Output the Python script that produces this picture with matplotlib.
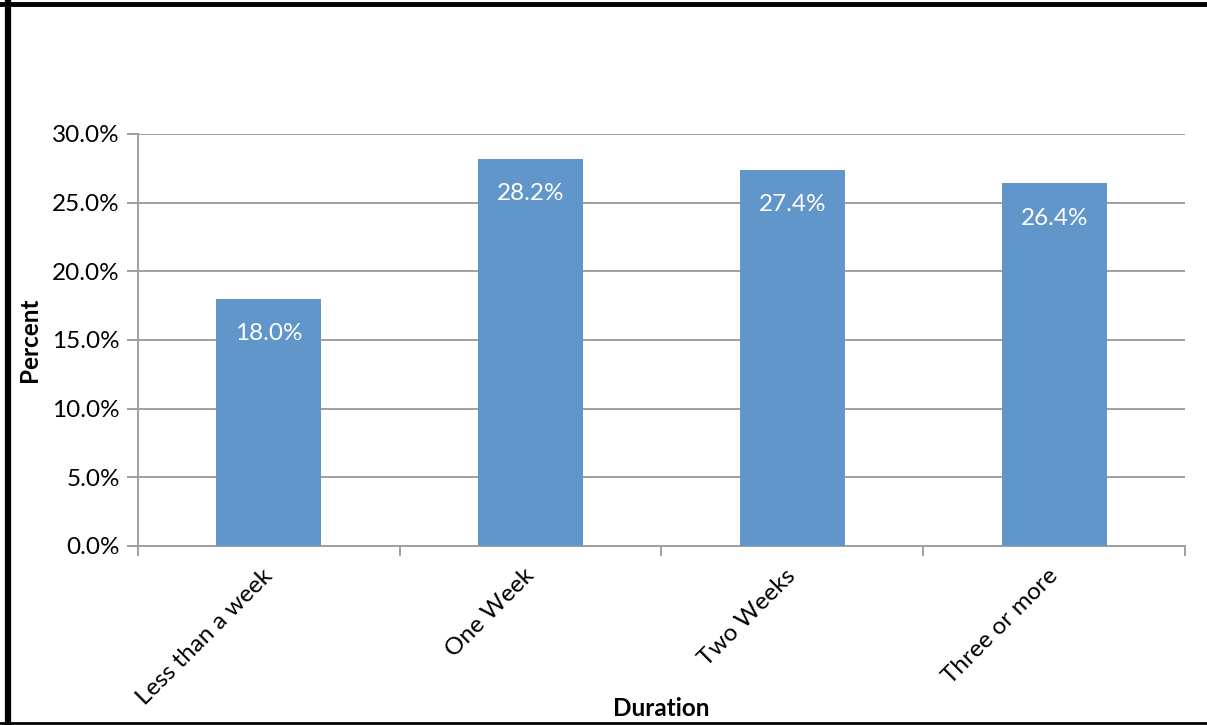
import matplotlib
matplotlib.use("Agg")
import matplotlib.pyplot as plt
from matplotlib.lines import Line2D
from matplotlib.ticker import FuncFormatter, FixedLocator

categories = ["Less than a week", "One Week", "Two Weeks", "Three or more"]
percents = [18.0, 28.2, 27.4, 26.4]
y_ticks = [0, 5, 10, 15, 20, 25, 30]

plt.rcParams["font.family"] = ["Lato", "DejaVu Sans"]

fig = plt.figure(figsize=(12.07, 7.25), dpi=100)
ax = fig.add_axes([0.1143, 0.2469, 0.9818 - 0.1143, 0.8152 - 0.2469])

bar_color = "#6096CA"
grid_color = "#A0A0A0"
fs = 17.5

x = range(len(categories))
ax.bar(x, percents, width=0.4, color=bar_color, zorder=3)

for xi, v in zip(x, percents):
    ax.annotate(f"{v:.1f}%", xy=(xi, v), xytext=(0, -35), textcoords="offset pixels",
                ha="center", va="center", color="white", fontsize=fs, zorder=4)

ax.set_xlim(-0.5, len(categories) - 0.5)
ax.set_ylim(0, 30)
ax.yaxis.set_major_locator(FixedLocator(y_ticks))
ax.yaxis.set_major_formatter(FuncFormatter(lambda v, p: f"{v:.1f}%"))
ax.grid(axis="y", color=grid_color, linewidth=1.4, zorder=0)
ax.set_axisbelow(True)

# category labels at centres, tick marks at category boundaries
ax.set_xticks(list(x))
ax.set_xticklabels(categories, rotation=45, ha="right", va="center",
                   rotation_mode="anchor", fontsize=fs)
ax.tick_params(axis="x", which="major", length=0, pad=19)
ax.set_xticks([i - 0.5 for i in range(len(categories) + 1)], minor=True)
ax.tick_params(axis="x", which="minor", length=7, width=1.4, color=grid_color)
ax.tick_params(axis="y", length=8, width=1.4, color=grid_color, labelsize=fs, pad=5)

for s in ["top", "right"]:
    ax.spines[s].set_visible(False)
for s in ["left", "bottom"]:
    ax.spines[s].set_color(grid_color)
    ax.spines[s].set_linewidth(1.4)

ax.set_ylabel("Percent", fontsize=fs, fontweight="bold")
ax.yaxis.set_label_coords(-0.093, 0.5)
fig.text(0.5476, 0.023, "Duration", ha="center", va="center",
         fontsize=fs, fontweight="bold")

# outer frame
fig.add_artist(Line2D([0.0066, 0.0066], [0.0, 1.0], transform=fig.transFigure,
                      color="black", linewidth=4.5))
fig.add_artist(Line2D([0.0, 1.0], [0.9945, 0.9945], transform=fig.transFigure,
                      color="black", linewidth=3.5))
fig.add_artist(Line2D([0.0, 1.0], [0.0025, 0.0025], transform=fig.transFigure,
                      color="black", linewidth=2))

fig.savefig("out.png", dpi=100, facecolor="white")
